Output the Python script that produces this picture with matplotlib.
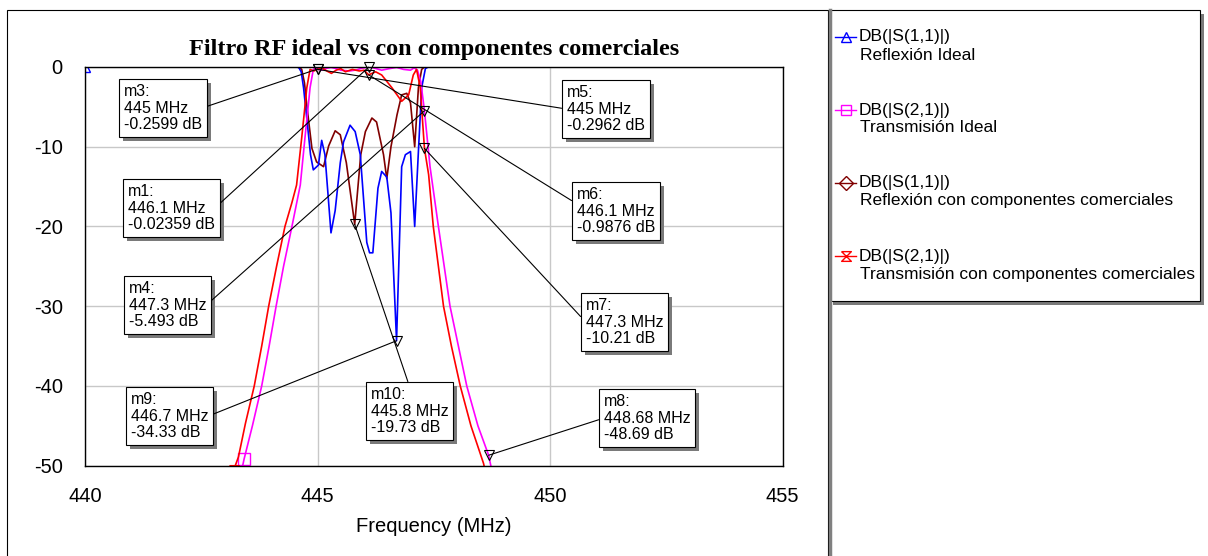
import matplotlib
matplotlib.use("Agg")
import matplotlib.pyplot as plt
from matplotlib.path import Path
from matplotlib.patches import Rectangle
from matplotlib.text import Annotation

plt.rcParams['font.family'] = ['Liberation Sans', 'DejaVu Sans']
plt.rcParams['axes.unicode_minus'] = False

W, H = 1208, 556

# S11 ideal (MHz, dB)
f_s11_ideal = [440.0, 444.59, 444.65, 444.70, 444.78, 444.85, 444.91, 445.02, 445.09,
               445.16, 445.29, 445.38, 445.49, 445.56, 445.70, 445.81, 445.92, 446.06,
               446.12, 446.19, 446.30, 446.38, 446.49, 446.58, 446.70, 446.81, 446.89,
               447.0, 447.09, 447.17, 447.24, 447.32, 447.38, 455.0]
db_s11_ideal = [0, 0, -0.6, -2.6, -7, -11, -12.9, -12.3, -9.2,
                -11, -20.8, -18, -12, -9.4, -7.3, -8.1, -11, -22,
                -23.3, -23.3, -15.2, -13.1, -13.8, -18.3, -34.33, -12.5, -11,
                -10.6, -20, -10.6, -2.6, -0.2, 0, 0]

# S21 ideal
f_s21_ideal = [443.30, 443.42, 443.60, 443.80, 443.96, 444.11, 444.27, 444.45, 444.63,
               444.73, 444.79, 444.84, 444.91, 444.95, 445.0, 445.09, 445.2, 445.29,
               445.4, 445.5, 445.69, 445.85, 445.95, 446.1, 446.2, 446.38, 446.55,
               446.7, 446.85, 447.0, 447.08, 447.15, 447.22, 447.3, 447.42, 447.6,
               447.85, 448.03, 448.21, 448.45, 448.68, 448.80]
db_s21_ideal = [-52.5, -49.2, -45, -40, -35, -30, -25, -20, -14.8,
                -8.9, -5.5, -2.6, -0.3, -0.15, -0.2599, -0.4, -0.15, -0.05,
                -0.2, -0.4, -0.5, -0.35, -0.15, -0.02359, -0.1, -0.4, -0.2,
                -0.05, -0.3, -0.4, -0.1, -0.4, -1.8, -5.493, -12.5, -20,
                -30, -35, -40, -45, -48.69, -52]

# S11 with commercial parts
f_s11_com = [440.0, 444.55, 444.62, 444.66, 444.72, 444.77, 444.88, 444.98, 445.13,
             445.24, 445.38, 445.49, 445.62, 445.8, 445.93, 446.03, 446.17, 446.27,
             446.42, 446.49, 446.58, 446.71, 446.81, 446.92, 447.0, 447.09, 447.17,
             447.24, 447.3, 455.0]
db_s11_com = [0, 0, -0.1, -0.3, -2, -4.8, -10.2, -11.9, -12.5,
              -9.9, -8, -8.5, -12, -19.73, -11, -8.1, -6.4, -6.9,
              -11, -14, -10, -6, -3.5, -3.3, -4.5, -10, -2.6,
              -0.3, 0, 0]

# S21 with commercial parts
f_s21_com = [443.20, 443.30, 443.45, 443.64, 443.80, 443.95, 444.12, 444.30, 444.45,
             444.55, 444.66, 444.72, 444.77, 444.84, 444.92, 445.0, 445.1, 445.2,
             445.3, 445.4, 445.5, 445.6, 445.75, 445.9, 446.0, 446.1, 446.25,
             446.38, 446.6, 446.81, 446.96, 447.06, 447.13, 447.21, 447.3, 447.39,
             447.49, 447.6, 447.71, 447.88, 448.07, 448.3, 448.57, 448.66]
db_s21_com = [-50.5, -48.9, -44.7, -40, -35, -30, -25, -20, -17,
              -14.8, -8.9, -5.5, -2.6, -0.3, -0.5, -0.2962, -0.1, -0.5,
              -0.8, -0.4, -0.2, -0.6, -0.3, -0.5, -0.4, -0.9876, -0.6,
              -1.0, -2.6, -4.3, -3.5, -1.0, -0.3, -2.6, -10.21, -13.5,
              -20, -25, -30, -35, -40, -45, -49.7, -52]

# readout markers
mk_names = ['m1', 'm3', 'm4', 'm9', 'm10', 'm5', 'm6', 'm7', 'm8']
mk_freq = [446.1, 445, 447.3, 446.7, 445.8, 445, 446.1, 447.3, 448.68]
mk_db = [-0.02359, -0.2599, -5.493, -34.33, -19.73, -0.2962, -0.9876, -10.21, -48.69]

# box top-left corner in figure pixels, and where the leader leaves the box
box_pos = {
    'm3': (119, 79, 1, 0.5),
    'm1': (123, 179, 1, 0.5),
    'm4': (124, 276, 1, 0.5),
    'm9': (126, 387, 1, 0.5),
    'm10': (366, 382, 0.5, 1),
    'm5': (562, 80, 0, 0.5),
    'm6': (572, 182, 0, 0.65),
    'm7': (581, 293, 0, 0.5),
    'm8': (599, 389, 0, 0.5),
}

hourglass = Path([(-1, 1), (1, 1), (-1, -1), (1, -1), (-1, 1)])

fig = plt.figure(figsize=(W / 100, H / 100), dpi=100)

# pixel-space layer for frames and legend
bg = fig.add_axes([0, 0, 1, 1])
bg.set_xlim(0, W)
bg.set_ylim(H, 0)
bg.axis('off')

bg.add_patch(Rectangle((7, 10), 821, 560, fc='white', ec='black', lw=0.8))
bg.plot([829.5, 829.5], [10, H], color='#808080', lw=2.5)

# legend box with shadow
bg.add_patch(Rectangle((833, 14), 371, 291, fc='#7a7a7a', ec='none'))
bg.add_patch(Rectangle((829, 10), 371, 291, fc='white', ec='black', lw=0.8))

leg_col = ['#0000ff', '#ff00ff', '#800000', '#ff0000']
leg_sym = ['^', 's', 'D', hourglass]
leg_top = ['DB(|S(1,1)|)', 'DB(|S(2,1)|)', 'DB(|S(1,1)|)', 'DB(|S(2,1)|)']
leg_sub = ['Reflexión Ideal', 'Transmisión Ideal',
           'Reflexión con componentes comerciales',
           'Transmisión con componentes comerciales']
for i in range(4):
    y = 37 + 73 * i
    bg.plot([835, 856], [y, y], color=leg_col[i], lw=1)
    bg.plot([845.5], [y], marker=leg_sym[i], ms=7, mfc='none', mec=leg_col[i], mew=1)
    bg.text(859, y, leg_top[i], fontsize=12.5, va='center', ha='left')
    bg.text(860, y + 18, leg_sub[i], fontsize=12.5, va='center', ha='left')

ax = fig.add_axes([85 / W, (H - 465.7) / H, (782.5 - 85) / W, (465.7 - 67) / H])
ax.set_xlim(440, 455)
ax.set_ylim(-50, 0)
ax.set_xticks([440, 445, 450, 455])
ax.set_yticks([0, -10, -20, -30, -40, -50])
ax.tick_params(length=0, labelsize=14.5)
ax.tick_params(axis='y', pad=16)
ax.tick_params(axis='x', pad=15)
ax.grid(True, color='#c8c8c8', lw=1)
ax.set_axisbelow(True)
for s in ax.spines.values():
    s.set_linewidth(1.0)

ax.plot(f_s11_com, db_s11_com, color='#800000', lw=1.2)
ax.plot(f_s11_ideal, db_s11_ideal, color='#0000ff', lw=1.2,
        marker='^', markevery=[0], ms=7, mfc='none', mew=1)
ax.plot(f_s21_ideal, db_s21_ideal, color='#ff00ff', lw=1.2,
        marker='s', markevery=[1], ms=8.5, mfc='none', mew=1)
ax.plot(f_s21_com, db_s21_com, color='#ff0000', lw=1.2,
        marker=hourglass, markevery=[0], ms=7, mfc='none', mew=1)

ax.set_xlabel('Frequency (MHz)', fontsize=14.5, labelpad=8)
ax.set_title('Filtro RF ideal vs con componentes comerciales',
             fontfamily='Liberation Serif', fontweight='bold', fontsize=17.5, pad=8.6)

# readout boxes live on the figure so their shadows can sit underneath
fs = 11.5
pad_px = 0.3 * fs * 100 / 72
boxes = []
for name, fq, v in zip(mk_names, mk_freq, mk_db):
    ax.plot([fq], [v], marker='v', ms=7, mfc='none', mec='black', mew=0.8,
            clip_on=False, zorder=5)
    bx, by, rx, ry = box_pos[name]
    ann = Annotation(f"{name}:\n{fq:g} MHz\n{v:g} dB", xy=(fq, v), xycoords=ax.transData,
                     xytext=(bx + pad_px, by + pad_px), textcoords=bg.transData,
                     ha='left', va='top', fontsize=fs, linespacing=1.15,
                     bbox=dict(boxstyle='square,pad=0.3', fc='white', ec='black', lw=0.8),
                     arrowprops=dict(arrowstyle='-', color='black', lw=0.8,
                                     shrinkA=0, shrinkB=0, relpos=(rx, ry)),
                     zorder=11)
    fig.add_artist(ann)
    boxes.append(ann)

fig.canvas.draw()
renderer = fig.canvas.get_renderer()
for ann in boxes:
    bb = ann.get_bbox_patch().get_window_extent(renderer)
    shadow = Rectangle((bb.x0 + 4, bb.y0 - 4), bb.width, bb.height,
                       transform=None, fc='#7a7a7a', ec='none', zorder=10)
    fig.add_artist(shadow)

fig.savefig('out.png', dpi=100)
